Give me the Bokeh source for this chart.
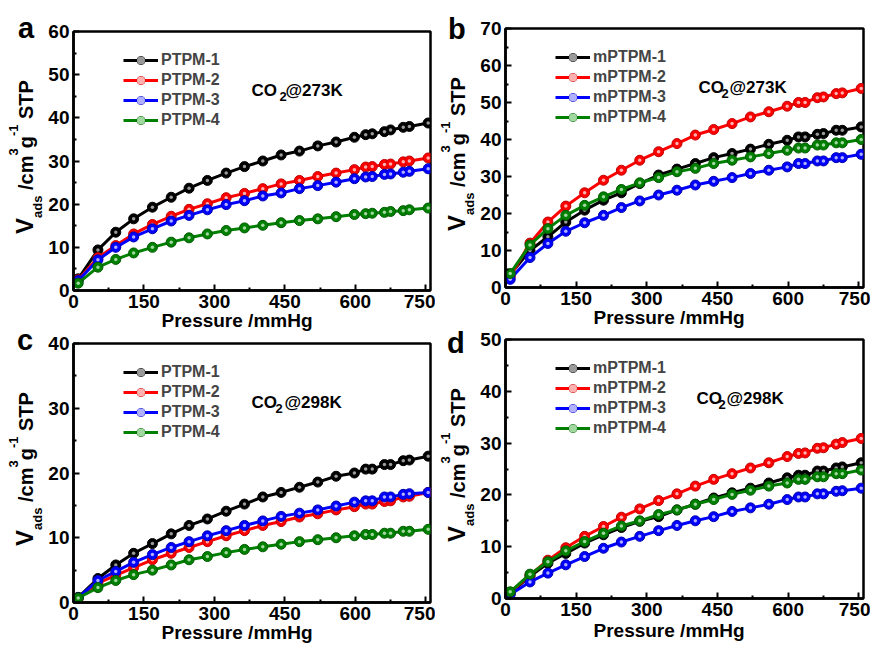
from bokeh.plotting import figure
from bokeh.models import Range1d, Label, FixedTicker, Title, Div
from bokeh.layouts import row, column
from bokeh.embed import file_html
from bokeh.resources import INLINE

# ---------------- data ----------------
pressure = [10, 52, 90, 128, 168, 208, 246, 285, 325, 364, 403, 442, 481,
            520, 559, 598, 622, 636, 662, 675, 702, 715, 755]

names_a = ["PTPM-1", "PTPM-2", "PTPM-3", "PTPM-4"]
names_b = ["mPTPM-1", "mPTPM-2", "mPTPM-3", "mPTPM-4"]

a1 = [2.7, 9.4, 13.5, 16.6, 19.3, 21.6, 23.7, 25.5, 27.2, 28.7, 30.0, 31.4, 32.3, 33.5, 34.4, 35.5, 36.1, 36.3, 36.8, 37.2, 37.8, 38.0, 38.8]
a2 = [2.5, 7.6, 10.4, 13.1, 15.3, 17.2, 18.8, 20.1, 21.5, 22.5, 23.6, 24.7, 25.5, 26.4, 27.2, 28.0, 28.6, 28.7, 29.2, 29.3, 29.8, 30.0, 30.7]
a3 = [2.3, 7.1, 10.0, 12.4, 14.3, 16.1, 17.4, 18.7, 19.9, 20.8, 21.9, 22.6, 23.6, 24.3, 25.1, 25.9, 26.3, 26.4, 26.9, 27.0, 27.4, 27.6, 28.2]
a4 = [1.7, 5.4, 7.2, 8.7, 10.0, 11.2, 12.2, 13.1, 13.9, 14.5, 15.1, 15.7, 16.2, 16.6, 17.1, 17.6, 17.8, 17.9, 18.1, 18.3, 18.5, 18.7, 19.1]

b1 = [3.5, 10.0, 13.7, 17.7, 20.9, 23.6, 25.6, 28.1, 30.4, 32.0, 33.5, 35.1, 36.2, 37.4, 38.7, 39.8, 40.7, 40.7, 41.4, 41.6, 42.5, 42.5, 43.4]
b2 = [3.0, 12.0, 17.7, 22.0, 25.6, 29.0, 31.7, 34.4, 36.7, 38.9, 41.2, 42.7, 44.3, 46.1, 47.5, 49.0, 50.0, 50.0, 51.3, 51.5, 52.4, 52.6, 53.8]
b3 = [2.2, 8.1, 11.9, 15.2, 17.5, 19.5, 21.6, 23.4, 25.0, 26.3, 27.7, 28.7, 29.7, 30.8, 31.7, 32.6, 33.5, 33.5, 34.2, 34.2, 35.1, 35.1, 36.0]
b4 = [3.8, 11.5, 15.9, 19.5, 22.2, 24.5, 26.5, 28.3, 29.7, 31.3, 32.2, 33.5, 34.4, 35.3, 36.2, 37.1, 37.7, 37.7, 38.5, 38.5, 39.1, 39.1, 40.0]

c1 = [0.8, 3.7, 5.8, 7.6, 9.1, 10.6, 11.9, 12.9, 14.1, 15.2, 16.3, 17.0, 17.8, 18.6, 19.5, 20.0, 20.6, 20.6, 21.3, 21.3, 21.9, 22.0, 22.6]
c2 = [0.6, 3.0, 4.2, 5.4, 6.6, 7.6, 8.5, 9.4, 10.3, 11.1, 11.9, 12.5, 13.2, 13.7, 14.3, 14.8, 15.2, 15.2, 15.6, 15.7, 16.3, 16.4, 17.0]
c3 = [0.7, 3.4, 4.8, 6.2, 7.4, 8.5, 9.4, 10.3, 11.1, 11.9, 12.6, 13.3, 13.8, 14.3, 14.9, 15.5, 15.7, 15.7, 16.3, 16.3, 16.7, 16.8, 17.0]
c4 = [0.7, 2.3, 3.4, 4.3, 5.0, 5.8, 6.6, 7.1, 7.7, 8.2, 8.6, 9.0, 9.4, 9.7, 10.0, 10.3, 10.5, 10.5, 10.7, 10.7, 11.0, 11.0, 11.3]

d1 = [1.0, 4.3, 6.8, 8.7, 10.7, 12.3, 13.7, 14.9, 15.8, 17.1, 18.2, 19.4, 20.4, 21.3, 22.3, 23.3, 23.8, 23.8, 24.6, 24.6, 25.2, 25.4, 26.2]
d2 = [1.2, 4.5, 7.4, 9.8, 12.0, 13.9, 15.7, 17.3, 18.9, 20.2, 21.7, 23.0, 24.1, 25.2, 26.2, 27.4, 28.0, 28.1, 29.0, 29.1, 29.8, 30.1, 30.9]
d3 = [0.8, 3.2, 4.9, 6.5, 8.1, 9.7, 10.9, 12.0, 13.1, 14.1, 15.0, 15.8, 16.8, 17.5, 18.2, 19.1, 19.6, 19.6, 20.2, 20.2, 20.7, 20.8, 21.3]
d4 = [1.3, 4.7, 7.1, 9.2, 11.0, 12.6, 14.0, 15.0, 16.2, 17.1, 18.2, 19.1, 20.1, 20.9, 21.7, 22.3, 23.0, 23.0, 23.5, 23.5, 24.1, 24.1, 24.8]

x_ticks = [0, 150, 300, 450, 600, 750]
x_minor = [75, 225, 375, 525, 675]

line_colors = ["#000000", "#ff0000", "#0000ff", "#008000"]
edge_colors = ["#000000", "#c00000", "#0000b0", "#005a00"]
glint_colors = ["#9a9a9a", "#ffb0b0", "#b0b0ff", "#a0d8a0"]

FONT = "Liberation Sans"


def lab(p, text, x, y, xo, yo, size):
    p.add_layout(Label(x=x, y=y, x_offset=xo, y_offset=yo, text=text,
                       text_font=FONT, text_font_style="bold",
                       text_font_size=size, text_color="black",
                       text_align="left", text_baseline="alphabetic"))


def panel(series, names, co2_temp, ymax, ystep, width, height,
          bl, br, bt, bb, co2_off, title_standoff):
    p = figure(width=width, height=height, output_backend="svg",
               toolbar_location=None, x_range=Range1d(0, 760),
               y_range=Range1d(0, ymax))
    p.min_border = 0
    p.min_border_left = bl
    p.min_border_right = br
    p.min_border_top = bt
    p.min_border_bottom = bb
    p.xgrid.visible = False
    p.ygrid.visible = False
    p.outline_line_color = "black"
    p.outline_line_width = 2.5
    p.background_fill_color = "white"
    p.border_fill_color = "white"

    yt = list(range(0, ymax + 1, ystep))
    ym = [v + ystep / 2 for v in yt[:-1]]
    p.xaxis.ticker = FixedTicker(ticks=x_ticks, minor_ticks=x_minor)
    p.yaxis.ticker = FixedTicker(ticks=yt, minor_ticks=ym)
    for ax in (p.xaxis, p.yaxis):
        ax.axis_line_width = 2.5
        ax.major_tick_in = 6
        ax.major_tick_out = 0
        ax.minor_tick_in = 3
        ax.minor_tick_out = 0
        ax.major_tick_line_width = 2
        ax.minor_tick_line_width = 2
        ax.major_label_text_font = FONT
        ax.major_label_text_font_style = "bold"
        ax.major_label_text_font_size = "19px"
        ax.major_label_text_color = "black"
        ax.major_label_standoff = 4

    p.add_layout(Title(text="Pressure /mmHg", align="left", offset=88,
                       standoff=title_standoff, text_font=FONT,
                       text_font_style="bold", text_font_size="19px",
                       text_color="black"), "below")

    for i, ys in enumerate(series):
        p.line(pressure, ys, line_color=line_colors[i], line_width=3,
               legend_label=names[i])
        p.scatter(pressure, ys, marker="circle", size=10,
                  fill_color=line_colors[i], line_color=edge_colors[i],
                  line_width=1, legend_label=names[i])
        p.scatter(pressure, ys, marker="circle", size=3.5,
                  fill_color=glint_colors[i], line_color=None,
                  legend_label=names[i])

    lg = p.legend[0]
    lg.location = (50, 160)
    lg.margin = 0
    lg.padding = 0
    lg.spacing = 0
    lg.border_line_color = None
    lg.background_fill_alpha = 0
    lg.glyph_width = 35
    lg.glyph_height = 20
    lg.label_height = 20
    lg.label_standoff = 3
    lg.label_text_font = FONT
    lg.label_text_font_style = "bold"
    lg.label_text_font_size = "16px"

    # CO2@T label inside the frame
    lab(p, "CO", 0, ymax, co2_off[0], -59, "17px")
    lab(p, "2", 0, ymax, co2_off[1], -65, "13px")
    lab(p, "@" + co2_temp, 0, ymax, co2_off[2], -59, "17px")
    return p


def letter_html(ch, left, baseline):
    top = baseline - 24.5
    return (f'<div style="position:absolute;left:{left}px;top:{top}px;'
            f'font-family:\'{FONT}\';font-weight:bold;font-size:29px;'
            f'line-height:29px;color:black;">{ch}</div>')


def ylabel_html(left, start):
    small = "font-size:13px;line-height:0;position:relative;"
    return (f'<div style="position:absolute;left:{left}px;top:{start}px;'
            f'transform-origin:0 0;transform:rotate(-90deg);white-space:nowrap;'
            f'font-family:\'{FONT}\';font-weight:bold;font-size:20px;'
            f'line-height:20px;color:black;">'
            f'<span style="font-size:24px;line-height:0">V</span>'
            f'<span style="{small}top:9px">ads</span>'
            f' /cm<span style="{small}top:-15px">3</span>g'
            f'<span style="{small}top:-15px">-1</span> STP</div>')


def side_div(width, parts):
    html = (f'<div style="position:relative;width:{width}px;height:645px;">'
            + "".join(parts) + '</div>')
    return Div(text=html, width=width, height=645, margin=0)


pa = panel([a1, a2, a3, a4], names_a, "273K", 60, 10, 390, 333,
           27, 5, 31, 43, (178, 206, 212), -5)
pc = panel([c1, c2, c3, c4], names_a, "298K", 40, 10, 390, 312,
           27, 5, 10, 43, (178, 202, 211), -5)
pb = panel([b1, b2, b3, b4], names_b, "273K", 70, 10, 393, 329,
           27, 7, 28, 42, (193, 216, 224), -6)
pd = panel([d1, d2, d3, d4], names_b, "298K", 50, 10, 393, 316,
           27, 7, 10, 47, (191, 213, 221), -2)

left_div = side_div(45, [letter_html("a", 18, 38), letter_html("c", 17, 350),
                         ylabel_html(16, 234), ylabel_html(16, 546)])
mid_div = side_div(42, [letter_html("b", 13, 39), letter_html("d", 12, 353),
                        ylabel_html(13, 231), ylabel_html(13, 542)])

layout = row(left_div, column(pa, pc), mid_div, column(pb, pd))
open("out.html", "w").write(file_html(layout, INLINE))
